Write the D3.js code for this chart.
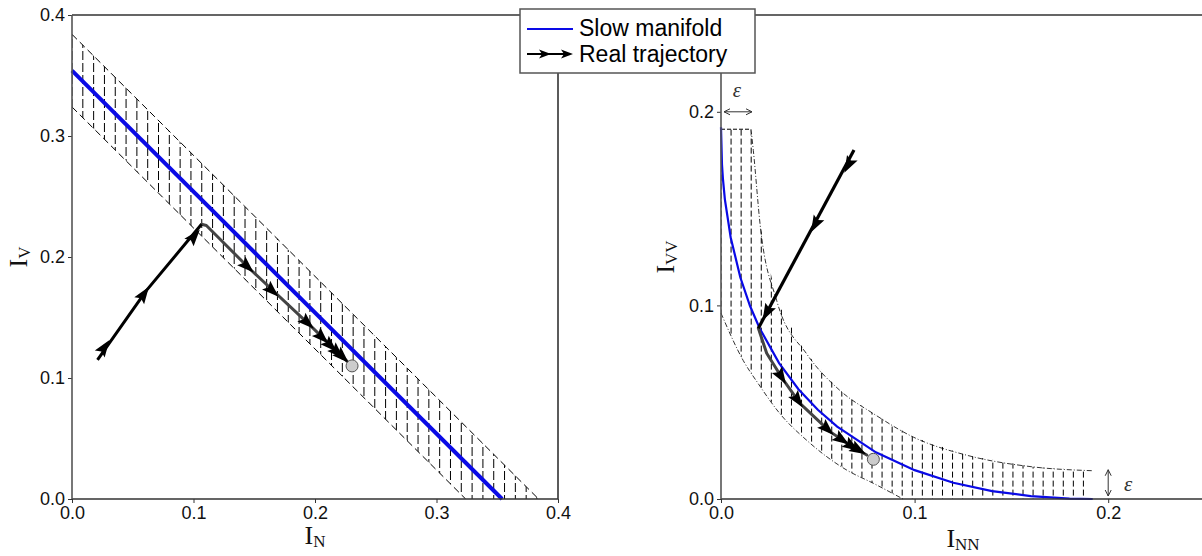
<!DOCTYPE html>
<html>
<head>
<meta charset="utf-8">
<script src="https://cdn.jsdelivr.net/npm/d3@7/dist/d3.min.js"></script>
<style>
  body { margin: 0; background: #fff; }
</style>
</head>
<body>
<div class="canvas"></div>
<script>
// ---- values ----
const ticksLeft = [0, 0.1, 0.2, 0.3, 0.4];
const ticksRight = [0, 0.1, 0.2];

// left panel (I_N, I_V)
const manifoldLeft = [[0, 0.354], [0.354, 0]];
const bandLeftUpper = [[0, 0.384], [0.384, 0]];
const bandLeftLower = [[0, 0.324], [0.324, 0]];
const fastLeft = [[0.021, 0.115], [0.061, 0.172], [0.1066, 0.227]];
const slowLeft = [[0.1066, 0.227], [0.1106, 0.226], [0.146, 0.1905], [0.196, 0.1435], [0.2263, 0.114]];
const arrowsLeft = [[0.0285, 0.128], [0.061, 0.172], [0.1026, 0.2196], [0.1465, 0.190], [0.167, 0.170],
  [0.196, 0.1435], [0.208, 0.1314], [0.215, 0.1245], [0.2206, 0.119], [0.2247, 0.1155]];
const endLeft = [0.2305, 0.110];

// right panel (I_NN, I_VV)
const manifoldRight = [[0, 0.192], [0.0005, 0.1729], [0.001, 0.1653], [0.002, 0.1548], [0.005, 0.1351],
  [0.01, 0.1144], [0.015, 0.0997], [0.02, 0.0881], [0.03, 0.0702], [0.04, 0.0567], [0.05, 0.0461],
  [0.06, 0.0374], [0.08, 0.0241], [0.1, 0.0149], [0.12, 0.0084], [0.14, 0.0041], [0.16, 0.0015],
  [0.18, 0.0002], [0.192, 0]];
const bandRightUpper = [[0.0155, 0.191], [0.0167, 0.180], [0.0202, 0.1418], [0.0288, 0.1024], [0.0443, 0.0749],
  [0.0615, 0.056], [0.0787, 0.0441], [0.0993, 0.032], [0.127, 0.0226], [0.161, 0.0166], [0.192, 0.0146]];
const bandRightCap = [[0, 0.191], [0.0155, 0.191]];
const bandRightLower = [[0, 0.096], [0.0115, 0.0715], [0.0193, 0.0595], [0.0305, 0.044], [0.0443, 0.0303],
  [0.065, 0.0149], [0.0787, 0.0081], [0.094, 0]];
const fastRight = [[0.0687, 0.1803], [0.0193, 0.0882]];
const slowRight = [[0.0193, 0.0882], [0.0236, 0.0753], [0.0322, 0.0615], [0.0408, 0.0494], [0.0563, 0.0348],
  [0.064, 0.0296], [0.0692, 0.0262], [0.0753, 0.0227]];
const arrowsRight = [[0.0649, 0.1708], [0.0477, 0.140], [0.0227, 0.0945], [0.0322, 0.0615], [0.0408, 0.0494],
  [0.0563, 0.0348], [0.064, 0.0296], [0.0692, 0.0262], [0.0727, 0.0244]];
const endRight = [0.0787, 0.0205];
const epsRight = 0.0155;

const hatchStepLeft = 0.0089;
const hatchStepRight = 0.0052;

const blue = "#0a0ae6";
const sans = "Liberation Sans, Arial, sans-serif";
const serif = "Liberation Serif, Times New Roman, serif";

const svg = d3
  .select(".canvas")
  .append("svg")
  .attr("width", 1202)
  .attr("height", 556);

const defs = svg.append("defs");
defs.append("marker")
  .attr("id", "tip")
  .attr("viewBox", "0 0 8 8")
  .attr("refX", 7).attr("refY", 4)
  .attr("markerWidth", 8).attr("markerHeight", 8)
  .attr("markerUnits", "userSpaceOnUse")
  .attr("orient", "auto-start-reverse")
  .append("path")
  .attr("d", "M1,1 L7,4 L1,7")
  .attr("fill", "none")
  .attr("stroke", "#333")
  .attr("stroke-width", 1);

const fmt = d3.format(".1f");
const headShape = "M5,0 L-12,-6 L-9,0 L-12,6 Z";

function makePanel(id, xDom, xRange, yDom, yRange, ticks) {
  const x = d3.scaleLinear().domain(xDom).range(xRange);
  const y = d3.scaleLinear().domain(yDom).range(yRange);
  const g = svg.append("g").attr("id", id);
  const line = d3.line().x((d) => x(d[0])).y((d) => y(d[1]));
  defs.append("clipPath").attr("id", id + "-clip")
    .append("rect")
    .attr("x", xRange[0]).attr("y", yRange[1])
    .attr("width", xRange[1] - xRange[0]).attr("height", yRange[0] - yRange[1]);
  return { x, y, g, line, ticks };
}

const L = makePanel("left", [0, 0.4], [72, 558], [0, 0.4], [499, 15], ticksLeft);
const R = makePanel("right", [0, 0.25], [721, 1205], [0, 0.25], [499, 15], ticksRight);

function hatch(P, id, upper, lower, step, maxX, dash) {
  // band region = upper boundary + lower boundary reversed
  const poly = upper.concat(lower.slice().reverse());
  defs.append("clipPath").attr("id", id)
    .append("path")
    .attr("d", P.line(poly) + "Z");
  const xs = d3.range(0, maxX + 1e-9, step);
  P.g.append("g")
    .attr("clip-path", `url(#${id})`)
    .selectAll("line")
    .data(xs)
    .join("line")
    .attr("x1", (d) => P.x(d)).attr("x2", (d) => P.x(d))
    .attr("y1", P.y(0.4)).attr("y2", P.y(0))
    .attr("stroke", "#000")
    .attr("stroke-width", 1)
    .attr("stroke-dasharray", dash);
}

function arrows(P, path, pts, color) {
  const px = path.map((d) => [P.x(d[0]), P.y(d[1])]);
  P.g.append("g")
    .selectAll("path")
    .data(pts)
    .join("path")
    .attr("d", headShape)
    .attr("fill", color)
    .attr("transform", (d) => {
      const p = [P.x(d[0]), P.y(d[1])];
      // direction of nearest segment
      let best = Infinity, ang = 0;
      for (let i = 0; i < px.length - 1; i++) {
        const a = px[i], b = px[i + 1];
        const dx = b[0] - a[0], dy = b[1] - a[1];
        const len2 = dx * dx + dy * dy;
        if (!len2) continue;
        let t = ((p[0] - a[0]) * dx + (p[1] - a[1]) * dy) / len2;
        t = Math.max(0, Math.min(1, t));
        const ex = a[0] + t * dx - p[0], ey = a[1] + t * dy - p[1];
        const dist = ex * ex + ey * ey;
        if (dist < best) { best = dist; ang = Math.atan2(dy, dx) * 180 / Math.PI; }
      }
      return `translate(${p[0]},${p[1]}) rotate(${ang})`;
    });
}

function axes(P, labelX, labelY, xLabelPos, yLabelPos) {
  const xa = P.g.append("g")
    .attr("transform", `translate(0,${P.y.range()[0]})`)
    .call(d3.axisBottom(P.x).tickValues(P.ticks).tickFormat(fmt).tickSizeInner(4).tickSizeOuter(0).tickPadding(3));
  const ya = P.g.append("g")
    .attr("transform", `translate(${P.x.range()[0]},0)`)
    .call(d3.axisLeft(P.y).tickValues(P.ticks).tickFormat(fmt).tickSizeInner(4).tickSizeOuter(0).tickPadding(3));
  [xa, ya].forEach((a) => {
    a.select(".domain").remove();
    a.attr("font-family", sans).attr("font-size", 18);
    a.selectAll(".tick line").attr("stroke", "#333");
    a.selectAll(".tick text").attr("fill", "#111");
  });

  // frame
  const [x0, x1] = P.x.range();
  const [y0, y1] = P.y.range();
  P.g.append("path").attr("d", `M${x0},${y1} H${x1} V${y0} H${x0}`)
    .attr("fill", "none").attr("stroke", "#333").attr("stroke-width", 1.6);
  P.g.append("line").attr("x1", x0).attr("x2", x0).attr("y1", y1).attr("y2", y0)
    .attr("stroke", "#555").attr("stroke-width", 1.6);

  const tx = P.g.append("text")
    .attr("x", xLabelPos[0]).attr("y", xLabelPos[1])
    .attr("text-anchor", "middle").style("font-family", serif).attr("font-size", 26).attr("fill", "#111");
  tx.append("tspan").text("I");
  tx.append("tspan").attr("dy", 3).attr("font-size", 17).text(labelX);

  const ty = P.g.append("text")
    .attr("transform", `translate(${yLabelPos[0]},${yLabelPos[1]}) rotate(-90)`)
    .attr("text-anchor", "middle").style("font-family", serif).attr("font-size", 26).attr("fill", "#111");
  ty.append("tspan").text("I");
  ty.append("tspan").attr("dy", 3).attr("font-size", 17).text(labelY);
}

// ---- left panel ----
hatch(L, "bandL", bandLeftUpper, bandLeftLower, hatchStepLeft, 0.384, "9,3");
[bandLeftUpper, bandLeftLower].forEach((b) =>
  L.g.append("path").attr("d", L.line(b)).attr("fill", "none")
    .attr("stroke", "#000").attr("stroke-width", 1).attr("stroke-dasharray", "7,4")
    .attr("clip-path", "url(#left-clip)"));
L.g.append("path").attr("d", L.line(manifoldLeft))
  .attr("fill", "none").attr("stroke", blue).attr("stroke-width", 4);
L.g.append("path").attr("d", L.line(slowLeft))
  .attr("fill", "none").attr("stroke", "#444").attr("stroke-width", 3)
  .attr("stroke-linejoin", "round").attr("stroke-linecap", "round");
L.g.append("path").attr("d", L.line(fastLeft))
  .attr("fill", "none").attr("stroke", "#000").attr("stroke-width", 3)
  .attr("stroke-linejoin", "round");
arrows(L, fastLeft.concat(slowLeft), arrowsLeft, "#000");
L.g.append("circle").attr("cx", L.x(endLeft[0])).attr("cy", L.y(endLeft[1])).attr("r", 6)
  .attr("fill", "#cccccc").attr("stroke", "#555").attr("stroke-width", 1);
axes(L, "N", "V", [315, 544], [27, 257]);

// ---- right panel ----
hatch(R, "bandR", bandRightCap.concat(bandRightUpper, [[0.192, 0]]), bandRightLower, hatchStepRight, 0.192, "6,3");
R.g.append("path").attr("d", R.line(bandRightCap)).attr("fill", "none")
  .attr("stroke", "#000").attr("stroke-width", 1).attr("stroke-dasharray", "4,2");
[bandRightUpper, bandRightLower].forEach((b) =>
  R.g.append("path").attr("d", R.line.curve(d3.curveMonotoneX)(b)).attr("fill", "none")
    .attr("stroke", "#000").attr("stroke-width", 0.8).attr("stroke-dasharray", "5,2,1,2"));
R.line.curve(d3.curveLinear);
R.g.append("path").attr("d", R.line(manifoldRight))
  .attr("fill", "none").attr("stroke", blue).attr("stroke-width", 2.2);
R.g.append("path").attr("d", R.line(slowRight))
  .attr("fill", "none").attr("stroke", "#444").attr("stroke-width", 3)
  .attr("stroke-linejoin", "round").attr("stroke-linecap", "round");
R.g.append("path").attr("d", R.line(fastRight))
  .attr("fill", "none").attr("stroke", "#000").attr("stroke-width", 3.2);
arrows(R, fastRight.concat(slowRight), arrowsRight, "#000");
R.g.append("circle").attr("cx", R.x(endRight[0])).attr("cy", R.y(endRight[1])).attr("r", 6)
  .attr("fill", "#cccccc").attr("stroke", "#555").attr("stroke-width", 1);
axes(R, "NN", "VV", [963, 547], [674, 257]);

// epsilon markers
R.g.append("line")
  .attr("x1", R.x(0) + 3).attr("x2", R.x(epsRight) + 1)
  .attr("y1", R.y(0.2)).attr("y2", R.y(0.2))
  .attr("stroke", "#333").attr("stroke-width", 1)
  .attr("marker-start", "url(#tip)").attr("marker-end", "url(#tip)");
R.g.append("text").attr("x", R.x(epsRight / 2) + 1).attr("y", R.y(0.2) - 15)
  .attr("text-anchor", "middle").style("font-family", serif)
  .style("font-style", "italic").attr("font-size", 21).attr("fill", "#333").text("ε");
R.g.append("line")
  .attr("x1", R.x(0.2)).attr("x2", R.x(0.2))
  .attr("y1", R.y(0.0146) - 1).attr("y2", R.y(0) - 3)
  .attr("stroke", "#333").attr("stroke-width", 1)
  .attr("marker-start", "url(#tip)").attr("marker-end", "url(#tip)");
R.g.append("text").attr("x", R.x(0.2) + 20).attr("y", R.y(0.0073) + 6)
  .attr("text-anchor", "middle").style("font-family", serif)
  .style("font-style", "italic").attr("font-size", 21).attr("fill", "#333").text("ε");

// ---- legend ----
const legend = svg.append("g").attr("transform", "translate(520,9)");
legend.append("rect").attr("width", 235).attr("height", 64)
  .attr("fill", "#fff").attr("stroke", "#555").attr("stroke-width", 1.5);
legend.append("line").attr("x1", 7).attr("x2", 53).attr("y1", 20).attr("y2", 20)
  .attr("stroke", blue).attr("stroke-width", 2);
legend.append("line").attr("x1", 7).attr("x2", 50).attr("y1", 45).attr("y2", 45)
  .attr("stroke", "#000").attr("stroke-width", 2);
legend.selectAll("path.head")
  .data([31, 53])
  .join("path")
  .attr("class", "head")
  .attr("d", "M0,0 L-12,-4.5 L-9,0 L-12,4.5 Z")
  .attr("transform", (d) => `translate(${d},45)`)
  .attr("fill", "#000");
legend.selectAll("text")
  .data(["Slow manifold", "Real trajectory"])
  .join("text")
  .attr("x", 59)
  .attr("y", (d, i) => 27 + i * 26)
  .style("font-family", sans)
  .attr("font-size", 23)
  .attr("fill", "#000")
  .text((d) => d);
</script>
</body>
</html>
